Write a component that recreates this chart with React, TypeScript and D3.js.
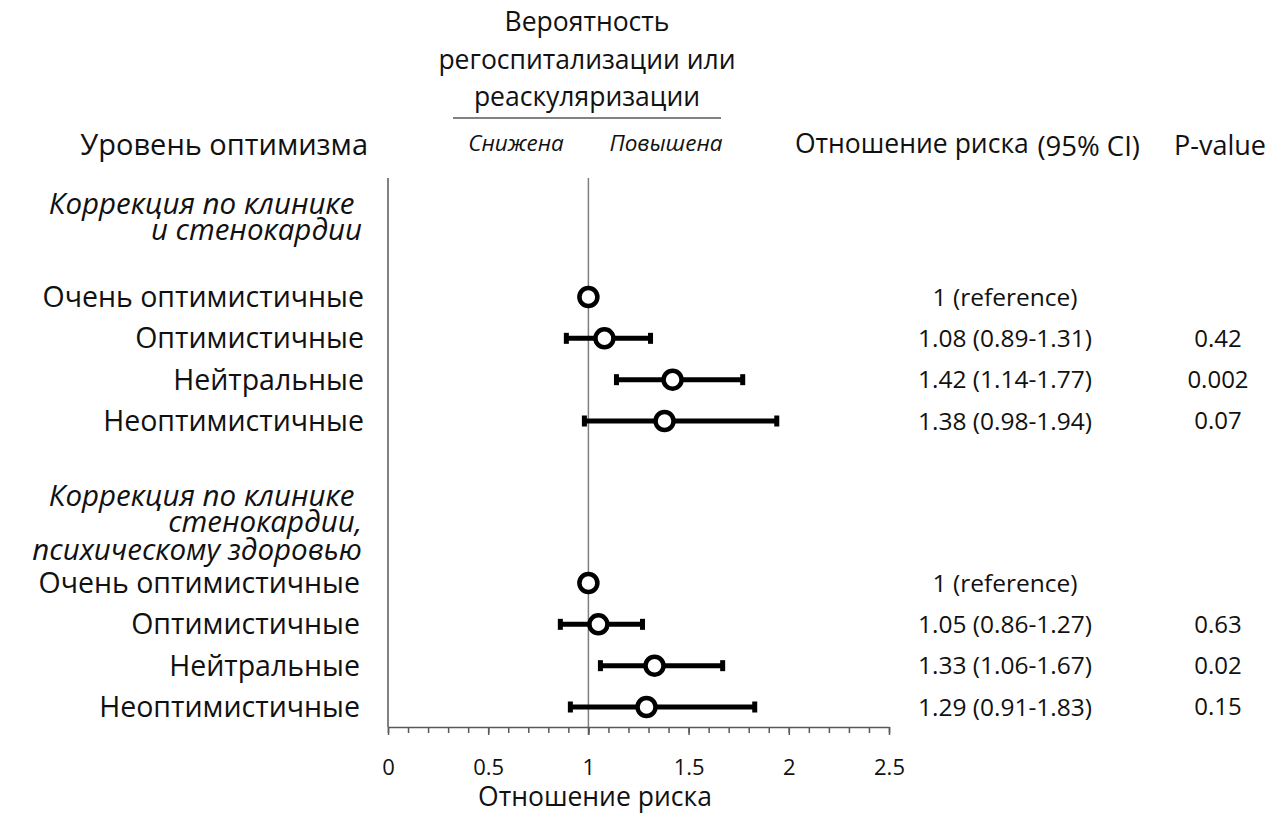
import React, { useRef, useEffect } from 'react';
import * as d3 from 'd3';

const width = 1269;
const height = 813;
const font = '"Open Sans", sans-serif';

// data
const levels = ['Очень оптимистичные', 'Оптимистичные', 'Нейтральные', 'Неоптимистичные'];
const groupTitles = [
  ['Коррекция по клинике ', 'и стенокардии'],
  ['Коррекция по клинике ', 'стенокардии,', 'психическому здоровью'],
];
const hr1 = [1, 1.08, 1.42, 1.38];
const lo1 = [null, 0.89, 1.14, 0.98];
const hi1 = [null, 1.31, 1.77, 1.94];
const p1 = ['', '0.42', '0.002', '0.07'];
const hr2 = [1, 1.05, 1.33, 1.29];
const lo2 = [null, 0.86, 1.06, 0.91];
const hi2 = [null, 1.27, 1.67, 1.83];
const p2 = ['', '0.63', '0.02', '0.15'];
const majorTicks = [0, 0.5, 1, 1.5, 2, 2.5];
const topTitle = ['Вероятность', 'регоспитализации или', 'реаскуляризации'];

const groups = [
  { hr: hr1, lo: lo1, hi: hi1, p: p1, title: groupTitles[0], top: 297, titleY: [204, 230], labelX: 364 },
  { hr: hr2, lo: lo2, hi: hi2, p: p2, title: groupTitles[1], top: 583, titleY: [496, 522, 550], labelX: 360 },
];

const x = d3.scaleLinear().domain([0, 2.5]).range([388, 889]);
const rowY = d3.scalePoint<string>().domain(levels).range([0, 124]);
const axisY = 727;

const fmt = d3.format('.2f');
const hrLabel = (hr: number, lo: number | null, hi: number | null) =>
  lo == null ? '1 (reference)' : `${fmt(hr)} (${fmt(lo)}-${fmt(hi as number)})`;

const App = () => {
  const axisRef = useRef<SVGGElement>(null);

  useEffect(() => {
    const g = d3.select(axisRef.current);
    g.selectAll('*').remove();

    // minor ticks every 0.1
    const minor = g.append('g').call(
      d3.axisBottom(x).ticks(25).tickSize(6).tickSizeOuter(0).tickFormat(() => '')
    );
    minor.select('.domain').remove();

    const major = g.append('g').call(
      d3.axisBottom(x).tickValues(majorTicks).tickSize(8).tickSizeOuter(0).tickPadding(24)
        .tickFormat(d => String(d))
    );
    g.selectAll('line').attr('stroke', '#595959').attr('stroke-width', 1.5);
    major.select('.domain').attr('stroke', '#595959').attr('stroke-width', 1.5);
    major.selectAll('text')
      .attr('font-family', font)
      .attr('font-size', 22)
      .attr('fill', '#111');
  }, []);

  return (
    <svg width={width} height={height} style={{ position: 'absolute', left: 0, top: 0 }}
      fontFamily={font} fill="#111">
      {/* header */}
      {topTitle.map((t, i) => (
        <text key={t} x={587} y={22 + i * 37.5} dy="0.35em" textAnchor="middle" fontSize={26.5}>{t}</text>
      ))}
      <line x1={453} x2={721} y1={118} y2={118} stroke="#595959" strokeWidth={1.5} />
      <text x={516} y={143} dy="0.35em" textAnchor="middle" fontSize={22.5} fontStyle="italic">Снижена</text>
      <text x={666} y={143} dy="0.35em" textAnchor="middle" fontSize={22.5} fontStyle="italic">Повышена</text>
      <text x={368} y={145} dy="0.35em" textAnchor="end" fontSize={29}>Уровень оптимизма</text>
      <text x={795} y={144} dy="0.35em" fontSize={26.5}>Отношение риска</text>
      <text x={1140} y={146} dy="0.35em" textAnchor="end" fontSize={27.5}>(95% CI)</text>
      <text x={1220} y={146} dy="0.35em" textAnchor="middle" fontSize={27}>P-value</text>

      {/* vertical lines */}
      <line x1={x(0)} x2={x(0)} y1={178} y2={axisY} stroke="#595959" strokeWidth={1.5} />
      <line x1={x(1)} x2={x(1)} y1={178} y2={axisY + 8} stroke="#7f7f7f" strokeWidth={1.5} />

      {groups.map((grp, gi) => (
        <g key={gi}>
          {grp.title.map((t, i) => (
            <text key={i} x={362} y={grp.titleY[i]} dy="0.35em" textAnchor="end"
              fontSize={29.5} fontStyle="italic" style={{ whiteSpace: 'pre' }}>{t}</text>
          ))}
          {levels.map((lev, i) => {
            const y = grp.top + (rowY(lev) as number);
            const lo = grp.lo[i];
            const hi = grp.hi[i];
            return (
              <g key={lev}>
                <text x={grp.labelX} y={y} dy="0.35em" textAnchor="end" fontSize={28.5}>{lev}</text>
                {lo != null && hi != null && (
                  <g>
                    <line x1={x(lo)} x2={x(hi)} y1={y} y2={y} stroke="#000" strokeWidth={5} />
                    <rect x={x(lo) - 2.5} y={y - 5.5} width={5} height={11} fill="#000" />
                    <rect x={x(hi) - 2.5} y={y - 5.5} width={5} height={11} fill="#000" />
                  </g>
                )}
                <circle cx={x(grp.hr[i])} cy={y} r={9} fill="#fff" stroke="#000" strokeWidth={4.5} />
                <text x={1005} y={y} dy="0.35em" textAnchor="middle" fontSize={24.5}>
                  {hrLabel(grp.hr[i], lo, hi)}
                </text>
                <text x={1218} y={y} dy="0.35em" textAnchor="middle" fontSize={24}>{grp.p[i]}</text>
              </g>
            );
          })}
        </g>
      ))}

      <g ref={axisRef} transform={`translate(0,${axisY})`} />
      <text x={595} y={797} dy="0.35em" textAnchor="middle" fontSize={26.5}>Отношение риска</text>
    </svg>
  );
};

export default App;
